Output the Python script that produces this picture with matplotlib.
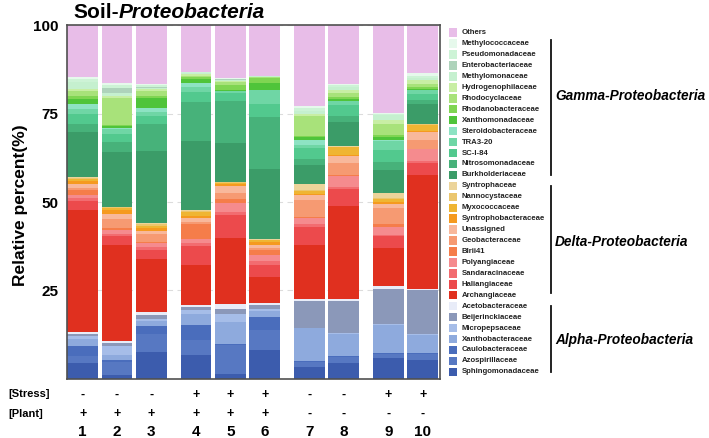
import matplotlib
matplotlib.use("Agg")
import matplotlib.pyplot as plt
from matplotlib.patches import Rectangle
from matplotlib.lines import Line2D

plt.rcParams['font.family'] = ['Liberation Sans', 'DejaVu Sans']

# ---------------- data ----------------
samples = ['1', '2', '3', '4', '5', '6', '7', '8', '9', '10']
stress = ['-', '-', '-', '+', '+', '+', '-', '-', '+', '+']
plant = ['+', '+', '+', '+', '+', '+', '-', '-', '-', '-']

# Alpha-Proteobacteria
sphingomonadaceae = [4.3, 1.0, 7.4, 6.8, 1.3, 8.0, 3.3, 4.5, 5.7, 5.2]
azospirillaceae = [2.1, 3.6, 5.2, 4.0, 8.3, 5.7, 1.4, 1.6, 1.4, 1.9]
caulobacteraceae = [2.7, 0.7, 2.3, 4.3, 0.3, 3.8, 0.2, 0.2, 0.2, 0.2]
xanthobacteraceae = [2.1, 1.3, 1.4, 3.3, 6.1, 1.7, 9.3, 6.4, 8.0, 5.0]
micropepsaceae = [0.8, 2.7, 0.7, 0.9, 2.3, 0.4, 0.2, 0.2, 0.2, 0.2]
beijerinckiaceae = [0.6, 0.8, 1.1, 0.9, 1.3, 1.3, 7.5, 9.0, 10.0, 12.5]
acetobacteraceae = [0.6, 0.6, 0.8, 0.7, 1.5, 0.6, 0.6, 0.6, 0.7, 0.5]
# Delta-Proteobacteria
archangiaceae = [34.4, 27.0, 15.1, 11.2, 18.7, 7.3, 15.4, 26.3, 10.8, 32.2]
haliangiaceae = [2.8, 2.7, 2.5, 5.4, 6.6, 3.5, 5.0, 5.0, 3.3, 3.4]
sandaracinaceae = [0.8, 0.5, 0.9, 1.0, 0.8, 0.9, 1.0, 0.4, 0.3, 0.4]
polyangiaceae = [0.8, 1.1, 1.0, 1.1, 2.6, 1.7, 1.6, 3.3, 2.3, 3.4]
blrii41 = [1.3, 0.6, 0.4, 4.3, 1.1, 1.4, 0.3, 0.2, 1.0, 0.2]
geobacteraceae = [0.7, 2.7, 2.1, 0.4, 1.7, 0.7, 4.7, 3.4, 4.4, 2.4]
unassigned = [1.2, 1.4, 0.8, 1.2, 1.9, 0.9, 1.4, 1.9, 1.1, 2.3]
syntrophobacteraceae = [0.8, 0.9, 0.8, 0.5, 0.6, 0.8, 0.5, 0.4, 0.6, 0.2]
myxococcaceae = [0.6, 0.7, 0.7, 1.2, 0.4, 0.5, 0.6, 2.2, 0.8, 1.9]
nannocystaceae = [0.2, 0.2, 0.6, 0.3, 0.1, 0.1, 0.3, 0.1, 0.2, 0.2]
syntrophaceae = [0.2, 0.2, 0.2, 0.1, 0.1, 0.1, 1.7, 0.1, 1.6, 0.1]
# Gamma-Proteobacteria
burkholderiaceae = [12.8, 15.5, 20.5, 19.6, 11.1, 20.0, 5.4, 6.8, 6.6, 5.6]
nitrosomonadaceae = [2.4, 2.8, 7.5, 11.1, 11.7, 14.7, 1.7, 1.7, 2.1, 1.0]
sc_i_84 = [2.8, 2.3, 2.4, 2.8, 2.4, 3.7, 3.2, 3.1, 3.3, 1.9]
tra3_20 = [1.2, 1.3, 1.1, 1.4, 0.4, 3.8, 0.7, 1.1, 2.6, 0.9]
steroidobacteraceae = [1.6, 0.3, 1.2, 1.3, 0.2, 0.1, 1.5, 0.2, 0.3, 0.2]
xanthomonadaceae = [1.3, 0.6, 2.8, 1.1, 0.1, 2.1, 0.9, 0.5, 0.9, 0.3]
rhodanobacteraceae = [0.9, 0.4, 0.5, 0.5, 1.4, 1.3, 0.2, 0.4, 0.7, 0.4]
rhodocyclaceae = [1.3, 7.5, 1.4, 0.4, 1.0, 0.3, 5.7, 1.3, 3.1, 1.0]
hydrogenophilaceae = [0.8, 0.6, 0.7, 0.5, 0.3, 0.1, 0.7, 0.7, 0.9, 0.9]
methylomonaceae = [1.9, 0.9, 0.3, 0.2, 0.2, 0.1, 0.9, 0.9, 1.4, 0.7]
enterobacteriaceae = [0.0, 1.4, 0.3, 0.0, 0.2, 0.0, 0.0, 0.0, 0.0, 0.0]
pseudomonadaceae = [0.7, 0.7, 0.4, 0.2, 0.2, 0.1, 0.7, 0.5, 0.5, 0.7]
methylococcaceae = [0.6, 0.8, 0.3, 0.1, 0.2, 0.1, 0.6, 0.5, 0.3, 0.8]
others = [14.7, 16.2, 16.6, 13.2, 14.9, 14.2, 22.8, 16.5, 24.7, 13.4]

families = ['Sphingomonadaceae', 'Azospirillaceae', 'Caulobacteraceae',
            'Xanthobacteraceae', 'Micropepsaceae', 'Beijerinckiaceae',
            'Acetobacteraceae', 'Archangiaceae', 'Haliangiaceae',
            'Sandaracinaceae', 'Polyangiaceae', 'Blrii41', 'Geobacteraceae',
            'Unassigned', 'Syntrophobacteraceae', 'Myxococcaceae',
            'Nannocystaceae', 'Syntrophaceae', 'Burkholderiaceae',
            'Nitrosomonadaceae', 'SC-I-84', 'TRA3-20', 'Steroidobacteraceae',
            'Xanthomonadaceae', 'Rhodanobacteraceae', 'Rhodocyclaceae',
            'Hydrogenophilaceae', 'Methylomonaceae', 'Enterobacteriaceae',
            'Pseudomonadaceae', 'Methylococcaceae', 'Others']
series = [sphingomonadaceae, azospirillaceae, caulobacteraceae,
          xanthobacteraceae, micropepsaceae, beijerinckiaceae,
          acetobacteraceae, archangiaceae, haliangiaceae, sandaracinaceae,
          polyangiaceae, blrii41, geobacteraceae, unassigned,
          syntrophobacteraceae, myxococcaceae, nannocystaceae, syntrophaceae,
          burkholderiaceae, nitrosomonadaceae, sc_i_84, tra3_20,
          steroidobacteraceae, xanthomonadaceae, rhodanobacteraceae,
          rhodocyclaceae, hydrogenophilaceae, methylomonaceae,
          enterobacteriaceae, pseudomonadaceae, methylococcaceae, others]

groups = ['Alpha-Proteobacteria', 'Delta-Proteobacteria', 'Gamma-Proteobacteria']
y_ticks = [25, 50, 75, 100]

# ---------------- style ----------------
colors = ['#3c5cad', '#5778c2', '#4a6dbc', '#8eaadd', '#a6bde8', '#8b98b9',
          '#e8ecf8', '#e0301f', '#ec4a4c', '#f26c70', '#f58b8e', '#f57d4a',
          '#f69a72', '#f8b89b', '#f59a1f', '#efb533', '#ebc66e', '#ecd49a',
          '#3b9c68', '#47b27a', '#52c98e', '#6fd6a5', '#8de3c3', '#4fc43a',
          '#7fd552', '#a8e27a', '#c8eea4', '#c5f0cf', '#aed3bb', '#cdf3d6',
          '#e6f9ec', '#e8bde8']

x_pos = [0, 1, 2, 3.3, 4.3, 5.3, 6.6, 7.6, 8.9, 9.9]
W, H = 709, 438
fig = plt.figure(figsize=(W / 100, H / 100), dpi=100)
ax = fig.add_axes([66.5 / W, 1 - 378.6 / H, (440.5 - 66.5) / W, (378.6 - 25.4) / H])

bottom = [0.0] * len(samples)
for name, vals, col in zip(families, series, colors):
    ax.bar(x_pos, vals, bottom=bottom, width=0.895, color=col, linewidth=0,
           zorder=2)
    bottom = [b + v for b, v in zip(bottom, vals)]

ax.set_xlim(-0.47, 10.42)
ax.set_ylim(0, 100)
ax.set_yticks(y_ticks)
ax.set_yticklabels([str(t) for t in y_ticks], fontsize=11, fontweight='bold')
ax.tick_params(axis='y', length=0, pad=6)
ax.set_xticks([])
ax.grid(axis='y', color='#dcdcdc', linestyle=(0, (5, 4)), linewidth=0.8, zorder=0)
for s in ax.spines.values():
    s.set_color('#505050')
    s.set_linewidth(1.2)

fig.text(21 / W, 1 - 205 / H, 'Relative percent(%)', rotation=90, ha='center',
         va='center', fontsize=12.5, fontweight='bold')

# title
t1 = fig.text(73 / W, 1 - 18.5 / H, 'Soil-', fontsize=15, fontweight='bold',
              ha='left', va='baseline')
fig.canvas.draw()
bb = t1.get_window_extent()
fig.text(bb.x1 / W, 1 - 18.5 / H, 'Proteobacteria', fontsize=15,
         fontweight='bold', style='italic', ha='left', va='baseline')

# bottom annotations
trans = ax.get_xaxis_transform()
for xp, s_, p_, lab in zip(x_pos, stress, plant, samples):
    ax.text(xp, -0.047, s_, transform=trans, ha='center', va='center',
            fontsize=9, fontweight='bold')
    ax.text(xp, -0.101, p_, transform=trans, ha='center', va='center',
            fontsize=9, fontweight='bold')
    ax.text(xp, -0.150, lab, transform=trans, ha='center', va='center',
            fontsize=11, fontweight='bold')
fig.text(8 / W, 1 - 394 / H, '[Stress]', ha='left', va='center', fontsize=8,
         fontweight='bold')
fig.text(8 / W, 1 - 414 / H, '[Plant]', ha='left', va='center', fontsize=8,
         fontweight='bold')

# legend (top to bottom = reverse of stacking)
row0, step = 32.7, 10.94
for i, (name, col) in enumerate(zip(families[::-1], colors[::-1])):
    yc = row0 + i * step
    fig.add_artist(Rectangle((449 / W, 1 - (yc + 4.2) / H), 8.4 / W, 8.4 / H,
                             transform=fig.transFigure, facecolor=col,
                             edgecolor='none'))
    fig.text(462 / W, 1 - yc / H, name, ha='left', va='center', fontsize=5.6,
             fontweight='bold', color='#222222')

# group brackets
brackets = [(306, 372, 340), (186.5, 293, 241.7), (40, 174.5, 96)]
for (y0, y1, yl), g in zip(brackets, groups):
    fig.add_artist(Line2D([550.5 / W, 550.5 / W], [1 - y0 / H, 1 - y1 / H],
                          transform=fig.transFigure, color='#111111',
                          linewidth=1.3))
    fig.text(555 / W, 1 - yl / H, g, ha='left', va='center', fontsize=9.8,
             fontweight='bold', style='italic')

fig.savefig('out.png', dpi=100)
